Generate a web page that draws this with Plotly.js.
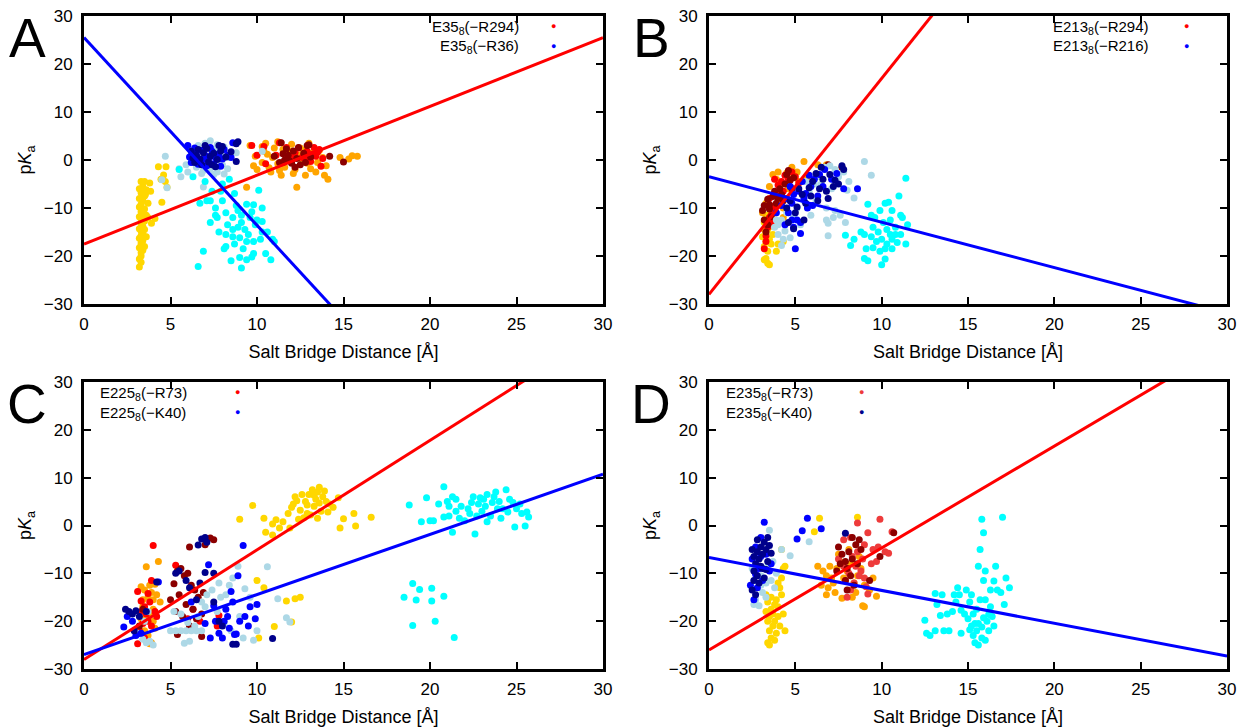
<!DOCTYPE html>
<html><head><meta charset="utf-8">
<script src="https://cdn.plot.ly/plotly-3.0.1.min.js"></script>
<style>html,body{margin:0;padding:0;background:#fff}#chart{width:1238px;height:727px}</style>
</head><body><div id="chart"></div>
<script>
// ---------------- DATA (x = salt bridge distance [Å], y = pKa) ----------------
const xTickVals = [0, 5, 10, 15, 20, 25, 30];
const yTickVals = [-30, -20, -10, 0, 10, 20, 30];
const panelLetters = ['A', 'B', 'C', 'D'];
const legendA = ['E35<sub>8</sub>(−R294)', 'E35<sub>8</sub>(−R36)'];
const legendB = ['E213<sub>8</sub>(−R294)', 'E213<sub>8</sub>(−R216)'];
const legendC = ['E225<sub>8</sub>(−R73)', 'E225<sub>8</sub>(−K40)'];
const legendD = ['E235<sub>8</sub>(−R73)', 'E235<sub>8</sub>(−K40)'];

// linear fits: [intercept, slope]
const fitA_red = [-17.5, 1.433], fitA_blue = [25.5, -3.91];
const fitB_red = [-28.0, 4.5],   fitB_blue = [-3.5, -0.946];
const fitC_red = [-28.0, 2.29],  fitC_blue = [-27.0, 1.257];
const fitD_red = [-26.0, 2.13],  fitD_blue = [-6.7, -0.687];

// ---- Panel A ----
const A_gold = [[3.3,-4.5],[3.4,-5.5],[3.2,-6],[3.3,-6.8],[3.5,-7.5],[3.2,-8],[3.4,-8.5],[3.3,-9.2],[3.2,-9.8],[3.5,-10.2],[3.3,-10.8],[3.4,-11.3],[3.2,-11.8],[3.3,-12.3],[3.5,-12.7],[3.3,-13.2],[3.4,-13.8],[3.2,-14.3],[3.3,-14.8],[3.4,-15.3],[3.3,-15.8],[3.2,-16.3],[3.4,-16.8],[3.3,-17.3],[3.3,-17.8],[3.2,-18.3],[3.4,-18.8],[3.3,-19.3],[3.3,-20],[3.2,-20.6],[3.3,-21.3],[3.2,-22.3],[3.6,-6.2],[3.7,-9],[3.6,-11.5],[3.5,-14.5],[3.6,-16],[3.5,-18],[3.8,-4.8],[3.9,-13.2],[3.7,-12],[4.5,-8.8],[4.3,-1.4],[4.74,-1.4],[4.6,-3.1],[4.7,-4.5],[4.45,-4],[4.8,-5.7],[3.85,-6.5],[3.55,-7.2],[4.1,-12.2],[3.5,-4.5]];
const A_orange = [[9.6,3],[10.3,2.8],[10.5,3.5],[11.2,3.8],[11.5,2.2],[12,3.3],[12.5,2.5],[13,3.5],[9.9,0.8],[10.3,-0.5],[10.6,1.2],[10.9,0.5],[11.2,-0.8],[11.6,-1.5],[11.9,1.8],[12.2,-2],[12.6,0],[12.9,-0.7],[13.2,1.5],[13.5,-0.5],[13.8,0.5],[14,-1.2],[10,-2],[10.8,-2.5],[11.4,-3.2],[12.1,-2.8],[12.8,-3.2],[13.4,-2.5],[14.1,-4],[12.3,-5.7],[9.4,-5.7],[10.7,-1.6],[11,2.5],[11.8,0.2],[12.4,1],[13.1,-1.8],[13.6,2],[10.4,1.8],[14.8,0.5],[15.5,0.9],[15.8,0.8],[15.3,0.2],[9.8,-1.2],[11.3,-2.2],[12.7,2],[13.9,-3.2]];
const A_red = [[9.7,3],[10,1],[10.4,2.8],[11.3,3.6],[11.7,2.6],[12.2,1.5],[12.6,0.5],[12.9,1.8],[13.2,1.2],[13.4,0.8],[13.6,2.2],[13.1,-0.3],[12.4,2.5],[11.8,0.5],[11.1,1],[13.8,0.3],[12.8,1.2],[13.3,2.6],[12.1,0.9],[11.5,-0.5],[10.5,-0.8],[13.7,-1.3],[12.9,0.1],[13.5,1.6]];
const A_darkred = [[11,0.8],[11.3,-0.5],[11.5,1.3],[11.7,2.3],[11.9,-0.2],[12.1,1.9],[12.3,0.3],[12.5,-1],[12.7,1.4],[12.9,3],[13.1,0.6],[11.4,3.6],[12.2,-1.5],[11.6,0],[12.8,-0.5],[14.2,0.8],[15,-0.4],[12.4,2.6],[13,3.2],[11.8,1],[12,-0.7]];
const A_lightblue = [[6.3,2],[6.6,3],[7,3.5],[7.3,4],[7.7,3.2],[8.1,2.7],[6.2,-0.5],[6.5,-1.5],[6.9,-2.2],[7.3,-1.8],[7.7,-2.5],[8,-1],[8.3,0.5],[7.5,-3],[8.1,-2.9],[6.8,-2.8],[5.9,-1],[4.7,0.8],[5.6,-3.5],[5.5,-1.8],[6.9,-5.6],[7.2,-0.5],[7.9,1],[8.3,-1.8],[7.8,0],[6,-2.5],[8.8,1.5],[10.3,1.8],[4.5,-4.1],[4.8,-5.8],[7.6,2.3],[6.4,0.5]];
const A_cyan = [[5.5,-2],[6.3,-3.5],[7,-4.5],[7.4,-6.5],[8,-5],[8.4,-4],[8.7,-7],[7.3,-8.5],[8,-8.5],[8.8,-9.5],[9.4,-9.2],[9.8,-9.3],[10.3,-10],[10.1,-6.3],[6.7,-9],[7.1,-8.5],[7.6,-10],[8.2,-11],[8.6,-12],[9.1,-11.5],[9.6,-12],[10,-12.5],[10.3,-12.8],[7.7,-12],[8.3,-13.5],[8.9,-14],[9.3,-14.5],[9.9,-13.5],[10.6,-15],[10.9,-16.5],[7.3,-13],[7.8,-15],[8.2,-15.5],[8.6,-16],[9,-16.2],[9.5,-15.5],[9.8,-17],[10.2,-16.5],[8.2,-18],[8.7,-17.5],[9.2,-18.5],[9.8,-19.5],[10.5,-19.5],[8.1,-18.5],[8.5,-21],[9,-20.3],[9.4,-20.8],[9.7,-20.2],[10.8,-20.8],[9.1,-22.5],[6.9,-19],[6.6,-22.2],[7.6,-11.5],[8.9,-10.5],[9.4,-17],[9.7,-10.8],[10.3,-15],[11,-17],[7.9,-6.5],[8.6,-14.5],[9.1,-13]];
const A_blue = [[6,3],[6.3,1.5],[6.5,0.8],[6.8,2],[7,1],[7.2,0.3],[7.4,1.8],[7.6,0.5],[7.8,1.3],[8,0.2],[8.3,1],[8.6,3.6],[6.2,-0.5],[6.6,-0.9],[7.1,-1.2],[7.5,-0.8],[7.9,-1.3],[6.4,2.5],[7.3,2.6],[8.1,2.2],[6.9,0.1],[8.5,0.5],[6.1,0.6]];
const A_darkblue = [[6.2,1.8],[6.5,1],[6.7,0.2],[6.9,1.5],[7.1,2.4],[7.3,0.8],[7.5,1.4],[7.7,0.1],[7.9,1.9],[8.2,0.6],[6.4,-0.5],[6.8,-1],[7.2,-0.4],[7.6,-1.4],[8.8,3.4],[8.8,-0.3],[8,2.8],[7,3],[6.3,0.4],[7.4,-1],[8.5,1.7],[6.6,2.2],[8.9,3.8],[7.8,3]];

// ---- Panel B ----
const B_gold = [[3.3,-11.5],[3.2,-13],[3.4,-14.5],[3.1,-16],[3.3,-17],[3.5,-16.5],[3.2,-18],[3.4,-19],[3.3,-20.5],[3.4,-21.5],[3.5,-21.8],[3.2,-20.8],[3.6,-13.8],[3.7,-15.5],[4,-17.5],[3.8,-11],[3.5,-12.2],[3.9,-19],[4.3,-17],[3.3,-15.3],[3.6,-17.5]];
const B_orange = [[3.1,-11],[3.3,-9],[3.5,-5.5],[3.7,-3],[4,-2.5],[4.2,-5],[4.5,-2.7],[4.8,-1.5],[5.1,-2.5],[5.5,-0.3],[5.7,-3.5],[4.3,-10],[4.1,-7.5],[3.4,-13],[3.6,-10.8],[4.3,-12],[5.2,-4.5],[6.3,-1],[6.8,-1],[4.6,-6],[3.9,-4],[4.9,-3.5],[3.8,-12.5],[3.2,-14.5]];
const B_red = [[3.2,-18.5],[3.3,-15.8],[3.4,-14],[3.5,-12],[3.6,-11.5],[3.8,-9.5],[3.9,-7],[4,-5.2],[4.2,-4.5],[4.4,-3.2],[4.6,-4],[4.8,-2.5],[5,-3.5],[3.5,-8],[3.7,-10.5],[4.3,-6.5],[3.3,-17],[3.6,-13],[4.1,-7.8],[4.7,-5.5],[3.8,-4],[5.2,-4.8]];
const B_darkred = [[3.1,-10.5],[3.2,-9.5],[3.4,-8.2],[3.5,-9.3],[3.7,-7.6],[3.8,-6.5],[4,-8],[4.1,-6],[4.2,-7.2],[4.4,-5],[4.5,-3],[4.7,-4.2],[4.8,-6],[3.4,-13.5],[3.3,-15],[3.6,-11.8],[3.9,-9],[3.2,-12.5],[4.3,-8.5],[4.6,-2.2],[3.5,-10.2],[4.9,-3.7],[7.7,-1.5],[6.9,-1]];
const B_lightblue = [[3.8,-14],[4,-15.5],[4.3,-16.5],[4.7,-16.2],[4.2,-12.5],[4.5,-11],[4.9,-12],[4.2,-17.8],[5.1,-10],[5.5,-8.5],[5.8,-6.5],[6.1,-5],[6.4,-3.5],[6.7,-1.5],[7,-1.2],[7.3,-2],[7.5,-3.5],[7.8,-2.5],[6.2,-8.5],[6.8,-10],[7.3,-10.5],[7.6,-11.5],[6.8,-12.5],[6.9,-13.2],[7.2,-12],[6.9,-15.8],[7.9,-13],[8,-6.3],[8.1,-4.5],[8.4,-7.9],[9,-0.3],[9.4,-3.2],[5.3,-13.5],[6.5,-5],[5.6,-4.5],[7.1,-6],[4.9,-14.2],[4,-13.5],[5.9,-11.5],[4.4,-14.8],[3.9,-12.5]];
const B_cyan = [[9.2,-9.2],[9.6,-12],[9.9,-10.5],[10.2,-9],[10.4,-8.8],[10.6,-10.5],[11,-7.5],[11.4,-3.8],[11.5,-13.5],[11.2,-12],[9.5,-14],[9.8,-15],[10.1,-13],[10.3,-14.5],[10.5,-12.5],[10.8,-14],[11.1,-15.5],[9.4,-16],[9.7,-17],[10,-16.5],[10.3,-17.5],[10.6,-16.5],[10.9,-17.2],[11.4,-17.5],[9,-15.5],[8.4,-16.5],[7.9,-15.7],[8.2,-17.8],[9.1,-18.5],[9.5,-18.3],[9.9,-19],[10.2,-18.5],[10.6,-18.5],[9,-20.5],[9.2,-21],[10,-21.8],[10.2,-20.6],[8.8,-15],[10.8,-15.5],[10.5,-15.5],[9.4,-11.5],[11.1,-11.5]];
const B_blue = [[3.9,-11],[4.2,-9.5],[4.4,-13.5],[4.6,-11],[4.8,-9],[4.9,-14],[5,-18.5],[5.1,-12.5],[5.3,-15.3],[5.5,-8],[5.7,-10],[5.9,-5.5],[6.1,-4],[6.3,-7.5],[6.4,-3],[6.7,-2],[7.1,-4],[7.4,-2.8],[7.8,-6],[8.6,-6],[5.2,-6.5],[5.6,-7],[4.7,-5.5],[5.4,-4.5],[6.6,-5.5],[4.9,-7.2],[4.5,-8],[6,-9.5],[5.3,-13],[4.8,-12.5],[5.8,-3.2]];
const B_darkblue = [[4.5,-10],[4.7,-8.5],[5,-11],[5.2,-6],[5.4,-7.2],[5.6,-9],[5.8,-5.8],[6,-4.5],[6.2,-2.8],[6.4,-6],[6.6,-4],[6.8,-6.5],[7,-3],[7.2,-5.5],[7.5,-5],[7.7,-1.2],[5.9,-7.5],[6.5,-1.5],[6.3,-8.5],[4.9,-14.3],[5.5,-12.5],[4.6,-13],[6.9,-8],[5.1,-9.8],[7.3,-4.2],[7.8,-2]];

// ---- Panel C ----
const C_gold = [[12.1,4.5],[12.2,6],[12.5,3.2],[12.8,5],[12.9,2.5],[13,6.5],[13.2,7.5],[13.3,4],[13.4,5.5],[13.5,7],[13.6,8],[13.7,3],[13.8,6],[14,5],[14.2,4.5],[14.4,3.8],[14.7,5.8],[12.4,1.3],[12.7,1.6],[13.1,2.2],[13.5,1.5],[14.1,2.8],[12.3,5.2],[12.6,6.5],[13.9,7.2],[12,3.8],[13.3,6.3],[12.9,4.3],[13.6,4.7],[11.8,2.5],[11.5,0.8],[11.1,1.2],[10.9,0.3],[11.3,-0.5],[10.5,-1.4],[10.9,-2],[11.9,-0.5],[10.4,1.5],[9.75,4.2],[9,1.3],[15,1.4],[15.6,2.5],[16.6,1.7],[15.7,-0.1],[14.8,-0.5],[10,-11.5],[10.4,-13],[11.7,-15.8],[12.2,-15.3],[12.5,-15],[12,-20.2],[11,-21.1],[10.1,-23.5]];
const C_orange = [[3.3,-12.8],[3.5,-13.5],[3.6,-8.6],[3.7,-15],[3.8,-12.5],[3.9,-14],[4,-15.5],[4.2,-14.5],[4.3,-7.5],[4.4,-16],[3.4,-17],[3.6,-19],[3.8,-18.5],[4,-20],[3.5,-22],[3.7,-23],[3.9,-24.5],[4.1,-21.5],[3.3,-19.5],[4,-17.5],[3.8,-24.7],[4.1,-12.3],[3.4,-15.5],[3.2,-22.5]];
const C_red = [[3.1,-13.8],[3.3,-15.8],[3.5,-17],[3.6,-18.5],[3.8,-16],[4,-4.2],[3.9,-11.5],[3.7,-14.2],[4.1,-18],[3.4,-20.5],[3.2,-22],[3.1,-24.7],[3.9,-21],[4.2,-19],[3.5,-23.5],[5.3,-8.3],[6.3,-17.5],[6.7,-20],[7.7,-21],[7.8,-18.8],[3.7,-20],[6,-19.5],[3.3,-18]];
const C_darkred = [[5,-15.5],[5.2,-12.2],[5.4,-9.5],[5.6,-9],[5.8,-10.5],[6,-10],[6.2,-12.5],[6.4,-13.5],[6.6,-15],[5.5,-14.5],[5.9,-16.5],[6.3,-17.5],[6.5,-19.5],[6.8,-18.5],[6.1,-4.5],[7.3,-2.6],[7.5,-3],[7,-4],[5.3,-18],[6.8,-23.2],[3.2,-21],[3.4,-17.5],[6.9,-14],[5.7,-19],[6.1,-21],[5.4,-22.8]];
const C_lightblue = [[3.1,-22.5],[3.4,-23.8],[3.6,-24.5],[3.8,-24.2],[4,-25],[3.5,-20],[3.7,-18],[5,-22],[5.3,-22],[5.6,-22],[5.9,-22],[6.2,-22],[6.5,-22],[6.8,-22],[5.2,-18],[5.6,-18.5],[6,-20.3],[6.4,-21],[6.6,-19],[6.8,-16],[7.1,-14.5],[7.4,-13.5],[7.8,-12],[7.9,-15],[8.2,-14.5],[8.4,-12.5],[8.6,-11],[8.9,-8.5],[7.7,-18],[8.1,-20.5],[8.5,-22],[9,-19],[9.2,-23.5],[9.6,-15],[9.8,-24],[10.6,-8.6],[11.2,-15.3],[11.7,-19.3],[11.9,-20.2],[10,-22],[6.1,-24.2],[5.8,-24.6],[7,-17],[9.3,-13.2]];
const C_cyan = [[18.8,4.3],[19.8,5.8],[20.2,1],[20.5,4.5],[20.8,8.1],[21,5],[21.1,2],[21.3,-1.4],[21.5,3],[21.8,4],[22,1],[22.3,2.5],[22.5,6],[22.6,-1.8],[22.8,4.5],[23,3],[23.1,5.5],[23.3,6.5],[23.5,2],[23.6,4.8],[23.8,7],[24,5],[24.2,3.5],[24.4,7.5],[24.6,5.5],[24.9,-0.3],[25,3.5],[25.3,2.5],[25.6,2.8],[25.5,-0.1],[25.7,1.8],[21.5,5.5],[22.2,3.5],[23.3,0.8],[24.1,1.5],[24.8,4.8],[20,1],[21.1,4],[21.7,1.5],[22.9,5.8],[23.9,3.5],[24.5,2.8],[22.4,4.8],[20.8,1.8],[23.7,6],[19.5,0.8],[25.2,4.5],[21.3,6],[22.7,2],[23.2,4],[18.5,-15],[19,-12.1],[19.2,-15.6],[19.4,-13.4],[20.1,-13.1],[20.1,-15.8],[20.8,-14.8],[19,-20.9],[20.3,-20],[21.4,-23.4]];
const C_blue = [[2.3,-21.2],[2.5,-19],[2.8,-20],[3,-23],[3.3,-22.5],[4.3,-11.8],[6.2,-16],[7.2,-8.2],[7.5,-16.8],[7.6,-20],[7.8,-22.5],[8.1,-20],[8.4,-21.5],[8.7,-22.8],[9,-20],[9.2,-4.2],[8.9,-10.5],[8.5,-13.8],[8.2,-17.5],[8.6,-16],[9.3,-19],[9.9,-19.5],[9.6,-17],[10,-16.5],[9.5,-21],[7.3,-23.5],[8,-23.5],[8.8,-22.7],[8.3,-19],[7,-20.5]];
const C_darkblue = [[2.4,-17.5],[2.6,-18],[2.8,-18.5],[3,-17.8],[3.2,-19],[5.3,-10],[5.5,-9.5],[5.9,-11.5],[6.1,-13],[6.5,-15.5],[6.6,-4.1],[6.8,-2.8],[7,-2.5],[7.1,-3.5],[7,-9.8],[7.5,-10],[7.5,-16],[8,-21],[8.6,-24.8],[10.9,-23.6],[7.8,-20],[6.7,-12],[4.2,-11.8],[3.6,-18],[2.9,-22],[8.8,-24.8]];

// ---- Panel D ----
const D_gold = [[3.3,-14.5],[3.4,-16],[3.5,-19],[3.6,-17.5],[3.7,-18.5],[3.8,-16.5],[3.9,-15.5],[4,-17],[4.1,-13],[4.2,-11],[4.3,-9],[4.4,-8.5],[4.2,-14.5],[3.4,-20],[3.5,-22],[3.6,-23.5],[3.4,-24.5],[3.5,-25],[3.7,-21],[3.8,-20],[3.9,-22.5],[4,-19],[4.1,-21],[4.3,-18.5],[4.4,-22],[3.3,-18],[3.6,-15],[4.2,-5],[4,-12],[3.8,-24],[6.1,-1.3],[6.4,1.5],[8.6,1.7]];
const D_orange = [[6.3,-8.5],[6.6,-9.5],[6.8,-10.5],[7,-8.5],[7.2,-12],[7.4,-9],[7.6,-7.5],[7.8,-11],[8,-9.5],[8.2,-8],[8.4,-12],[8.6,-10.5],[8.8,-9],[9,-12.5],[7.3,-14],[6.8,-14.5],[6.5,-12.5],[7.7,-15.2],[8.3,-15],[8.9,-16.8],[9,-17],[9.7,-14.8],[9.3,-13.5],[7.5,-6],[8.7,-6.5],[8.1,-5],[6.9,-13],[8.5,-14],[7.1,-11],[9.5,-11]];
const D_red = [[7.8,-3],[8.2,-2.5],[8.6,0.5],[9,-4],[9.2,-1.5],[9.5,-5],[9.8,-4.5],[9.9,1.3],[10.2,-5.5],[10.6,-1.3],[10.4,-5.8],[9.4,-8],[8.9,-7],[8.5,-8.5],[8.1,-10],[8.4,-12],[8.7,-10.5],[9.1,-12.8],[8.2,-13.5],[9.2,-14.3],[8,-15],[7.9,-11.5],[7.5,-7],[8.8,-9.5],[9,-11],[8.6,-5.5],[9.7,-7.5],[7.8,-8.5],[8.3,-6.5]];
const D_darkred = [[7.5,-4.5],[7.7,-6],[7.9,-7.5],[8.1,-5.5],[8.3,-7],[8.5,-4],[8.7,-3],[7.6,-8],[8,-9],[8.2,-10.5],[8.4,-12.5],[8.6,-8],[9.3,-11.5],[9.9,-6.5],[10.7,-1.5],[8,-13.5],[7.4,-9.5],[8.8,-5],[7.9,-11.5],[8.3,-2.5]];
const D_lightblue = [[2.5,-9],[2.6,-11.5],[2.8,-13],[3,-12.5],[2.7,-15.5],[2.9,-16.8],[3.1,-14],[3.3,-12],[3.6,-11.5],[3.7,-7.5],[3.5,-1],[4.2,-5],[4.7,-6.3],[5.8,-3.4],[3.9,-10],[3.3,-15],[2.6,-16.5],[3.8,-13],[3.4,-8.5],[3,-10.5]];
const D_cyan = [[12.5,-19.8],[12.6,-22.5],[12.8,-23],[13.1,-22],[13.1,-14.2],[13.2,-16.5],[13.4,-18.8],[13.6,-22],[13.9,-22],[13.8,-18.5],[14.1,-18],[14.2,-14.5],[14.4,-13],[14.5,-14.5],[14.6,-22.5],[14.8,-18.5],[14.9,-13.5],[15,-19.5],[15.1,-16],[15.2,-21],[15.3,-23],[15.4,-24.5],[15.5,-22],[15.6,-25],[15.5,-17.5],[15.6,-8.5],[15.7,-5],[15.8,1.3],[15.9,-11.5],[16,-9.5],[16.1,-20],[16.2,-22],[15.4,-20.5],[15.8,-23.5],[15.7,-15.5],[16,-15.5],[16.3,-17],[16.4,-19],[16.5,-21],[16.6,-8.5],[16.7,-13.5],[16.9,-14],[17,1.7],[17.2,-11],[17.4,-13],[17.1,-16.5],[15.9,-1.5],[14.6,-17.7],[15.3,-18.5],[15.9,-19.3],[16.2,-18.6],[15.1,-21.8],[15.6,-20.5],[16,-24],[14.3,-16],[15.2,-14.5],[16.5,-11.6],[13.5,-14.5],[15.8,-21.2],[16.3,-13.5]];
const D_blue = [[2.5,-7],[2.7,-4.5],[2.9,-9],[3,-2.5],[3.2,0.7],[3.1,-11.5],[3.3,-6],[2.6,-15.5],[2.8,-13],[3.5,-9.5],[2.4,-12.5],[3,-6.5],[5.1,-2.8],[5.4,-1.1],[5.7,1.5],[6.5,-0.7],[2.7,-10.2],[3.6,-8]];
const D_darkblue = [[2.5,-5],[2.6,-6.5],[2.7,-8],[2.8,-5.5],[2.9,-7],[3,-4.5],[3.1,-6],[3.2,-3.5],[3.3,-5],[3.4,-7.5],[3.5,-4.2],[2.6,-9.5],[2.8,-10.5],[2.9,-12],[3.1,-9],[3.2,-11],[2.5,-13.5],[2.7,-14.5],[3,-8.5],[3.3,-9.2],[2.6,-11.5],[3.4,-2.5],[3.6,-5.8],[2.8,-3],[7.9,-1.6]];

// ---------------- BUILD ----------------
const COL = {gold:'#FFD700', orange:'#FFA500', red:'#FF0000', darkred:'#8B0000', lightred:'#EE3B3B',
             lightblue:'#ADD8E6', cyan:'#00FFFF', blue:'#0000FF', darkblue:'#00008B'};
const W = 1238, H = 727;
const px = v => v / W, py = v => 1 - v / H;

const panelDefs = [
  {letter:panelLetters[0], xa:'x',  ya:'y',  groups:[[A_gold,'gold'],[A_orange,'orange'],[A_red,'red'],[A_darkred,'darkred'],[A_lightblue,'lightblue'],[A_cyan,'cyan'],[A_blue,'blue'],[A_darkblue,'darkblue']], fits:[fitA_red, fitA_blue], legend:legendA, legCols:['red','blue']},
  {letter:panelLetters[1], xa:'x2', ya:'y2', groups:[[B_gold,'gold'],[B_orange,'orange'],[B_red,'red'],[B_darkred,'darkred'],[B_lightblue,'lightblue'],[B_cyan,'cyan'],[B_blue,'blue'],[B_darkblue,'darkblue']], fits:[fitB_red, fitB_blue], legend:legendB, legCols:['red','blue']},
  {letter:panelLetters[2], xa:'x3', ya:'y3', groups:[[C_gold,'gold'],[C_orange,'orange'],[C_red,'red'],[C_darkred,'darkred'],[C_lightblue,'lightblue'],[C_cyan,'cyan'],[C_blue,'blue'],[C_darkblue,'darkblue']], fits:[fitC_red, fitC_blue], legend:legendC, legCols:['red','blue']},
  {letter:panelLetters[3], xa:'x4', ya:'y4', groups:[[D_gold,'gold'],[D_orange,'orange'],[D_red,'lightred'],[D_darkred,'darkred'],[D_lightblue,'lightblue'],[D_cyan,'cyan'],[D_blue,'blue'],[D_darkblue,'darkblue']], fits:[fitD_red, fitD_blue], legend:legendD, legCols:['lightred','darkblue']}
];

const traces = [];
panelDefs.forEach(p => {
  p.groups.forEach(([pts, c]) => {
    traces.push({type:'scatter', mode:'markers', xaxis:p.xa, yaxis:p.ya, showlegend:false,
      x: pts.map(d => d[0]), y: pts.map(d => d[1]),
      marker:{color:COL[c], size:7, line:{width:0}}, hoverinfo:'x+y'});
  });
  p.fits.forEach((f, i) => {
    const xs = [xTickVals[0], xTickVals[xTickVals.length-1]];
    traces.push({type:'scatter', mode:'lines', xaxis:p.xa, yaxis:p.ya, showlegend:false,
      x: xs, y: xs.map(x => f[0] + f[1]*x),
      line:{color: i === 0 ? '#FF0000' : '#0000FF', width:3}, hoverinfo:'skip'});
  });
});

const FONT = 'Liberation Sans, Arial, Helvetica, sans-serif';
const xDom = [[84,603],[709,1227],[84,603],[709,1227]];
const yDom = [[16,304],[16,304],[382,669],[382,669]];

const layout = {
  width:W, height:H, margin:{l:0,r:0,t:0,b:0}, showlegend:false,
  paper_bgcolor:'#fff', plot_bgcolor:'#fff', font:{family:FONT, size:15, color:'#000'},
  annotations:[]
};
const axBase = {showline:true, linecolor:'#000', linewidth:3, mirror:'ticks', ticks:'inside', ticklen:7, tickwidth:2,
  tickcolor:'#000', showgrid:false, zeroline:false, tickfont:{family:FONT, size:17, color:'#000'}};

panelDefs.forEach((p, i) => {
  const sx = i === 0 ? '' : String(i+1);
  layout['xaxis'+sx] = Object.assign({}, axBase, {domain:[px(xDom[i][0]), px(xDom[i][1])], range:[0,30],
    tickvals:xTickVals, anchor:'y'+sx, ticklabelstandoff:3,
    title:{text:'Salt Bridge Distance [Å]', font:{family:FONT,size:18}, standoff:12}});
  layout['yaxis'+sx] = Object.assign({}, axBase, {domain:[py(yDom[i][1]), py(yDom[i][0])], range:[-30,30],
    tickvals:yTickVals, anchor:'x'+sx, ticklabelstandoff:5,
    title:{text:'p<i>K</i><sub>a</sub>', font:{family:FONT,size:18}, standoff:8}});
});

// panel letters
const letterPos = [[27,38],[651,38],[27,404],[651,404]];
panelDefs.forEach((p, i) => {
  layout.annotations.push({xref:'paper', yref:'paper', x:px(letterPos[i][0]), y:py(letterPos[i][1]),
    text:p.letter, showarrow:false, xanchor:'center', yanchor:'middle', font:{family:FONT, size:55, color:'#000'}});
});

// legends (gnuplot style: text, then sample dot on the right)
const legSpec = [
  {tx:521, anchor:'right', dot:553, ys:[27,47]},
  {tx:1151, anchor:'right', dot:1186, ys:[27,47]},
  {tx:98, anchor:'left', dot:237, ys:[393,413]},
  {tx:724, anchor:'left', dot:861, ys:[393,413]}
];
panelDefs.forEach((p, i) => {
  const s = legSpec[i];
  p.legend.forEach((t, k) => {
    layout.annotations.push({xref:'paper', yref:'paper', x:px(s.tx), y:py(s.ys[k]), text:t, showarrow:false,
      xanchor:s.anchor, yanchor:'middle', font:{family:FONT, size:15, color:'#000'}});
    layout.annotations.push({xref:'paper', yref:'paper', x:px(s.dot), y:py(s.ys[k]-1), text:'●', showarrow:false,
      xanchor:'center', yanchor:'middle', font:{family:FONT, size:9, color:COL[p.legCols[k]]}});
  });
});

Plotly.newPlot('chart', traces, layout, {displayModeBar:false, staticPlot:true});
</script>
</body></html>
